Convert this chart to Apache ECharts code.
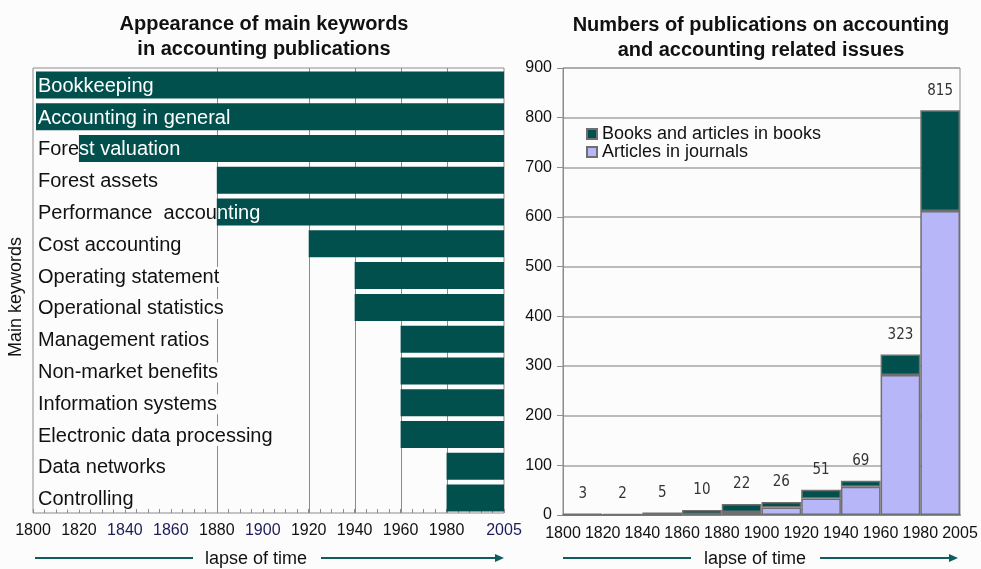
<!DOCTYPE html>
<html>
<head>
<meta charset="utf-8">
<title>Accounting keywords and publications</title>
<script src="https://cdn.jsdelivr.net/npm/echarts@6/dist/echarts.min.js"></script>
<style>
  html, body { margin: 0; padding: 0; background: #fcfcfc; }
  #chart { width: 981px; height: 569px; }
</style>
</head>
<body>
<div id="chart"></div>
<script>
// Keywords and the year each first appears (bars run to the last year)
const keywords = [
  'Bookkeeping', 'Accounting in general', 'Forest valuation', 'Forest assets',
  'Performance  accounting', 'Cost accounting', 'Operating statement',
  'Operational statistics', 'Management ratios', 'Non-market benefits',
  'Information systems', 'Electronic data processing', 'Data networks', 'Controlling'
];
const firstYears = [1800, 1800, 1820, 1880, 1880, 1920, 1940, 1940, 1960, 1960, 1960, 1960, 1980, 1980];
const lastYear = 2005;
const gridYears = [1880, 1920, 1940, 1960, 1980];
const navyYearLabels = [1840, 1860, 1900, 2005];

// Publication counts per period
const periods = ['1800-1820', '1820-1840', '1840-1860', '1860-1880', '1880-1900',
  '1900-1920', '1920-1940', '1940-1960', '1960-1980', '1980-2005'];
const periodEdges = ['1800', '1820', '1840', '1860', '1880', '1900', '1920', '1940', '1960', '1980', '2005'];
const journals = [0, 0, 0, 2, 6, 15, 33, 57, 282, 612];
const books = [3, 2, 5, 8, 16, 11, 18, 12, 41, 203];

const FONT = '"Liberation Sans", Arial, Helvetica, sans-serif';
const NARROW = '"Liberation Sans Narrow", "DejaVu Sans Condensed", "Liberation Sans", sans-serif';
const TEAL = '#02504e';
const LAVENDER = '#b6b6f8';
const FRAME = '#8c8c8c';
const ARROW = '#0f5d5c';
const BG = '#fcfcfc';

const chart = echarts.init(document.getElementById('chart'), null, { renderer: 'canvas' });

function arrow(x1, x2, y) {
  return [
    { type: 'line', shape: { x1: x1, y1: y, x2: x2 - 7, y2: y }, style: { stroke: ARROW, lineWidth: 2 } },
    { type: 'polygon', shape: { points: [[x2 - 9, y - 4], [x2, y], [x2 - 9, y + 4]] }, style: { fill: ARROW } }
  ];
}
function plainLine(x1, x2, y) {
  return { type: 'line', shape: { x1: x1, y1: y, x2: x2, y2: y }, style: { stroke: ARROW, lineWidth: 2 } };
}

const option = {
  backgroundColor: BG,
  animation: false,
  title: [
    {
      text: 'Appearance of main keywords\nin accounting publications',
      left: 259, top: 7, textAlign: 'center',
      textStyle: { fontFamily: FONT, fontSize: 20, fontWeight: 'bold', color: '#111', lineHeight: 25 }
    },
    {
      text: 'Numbers of publications on accounting\nand accounting related issues',
      left: 756, top: 8, textAlign: 'center',
      textStyle: { fontFamily: FONT, fontSize: 20, fontWeight: 'bold', color: '#111', lineHeight: 25 }
    }
  ],
  legend: {
    orient: 'vertical', left: 581, top: 120,
    itemWidth: 10, itemHeight: 10, itemGap: 0, icon: 'rect',
    data: ['Books and articles in books', 'Articles in journals'],
    textStyle: { fontFamily: FONT, fontSize: 18, color: '#111' }
  },
  grid: [
    { left: 33, top: 68, width: 471, height: 445, show: true, borderColor: FRAME, borderWidth: 1, backgroundColor: 'transparent' },
    { left: 563, top: 68, width: 397, height: 447, show: true, borderColor: FRAME, borderWidth: 1, backgroundColor: 'transparent' }
  ],
  xAxis: [
    {
      gridIndex: 0, type: 'value', min: 1800, max: lastYear, interval: 20, position: 'bottom',
      axisLine: { lineStyle: { color: FRAME } },
      axisTick: { show: false },
      splitLine: { show: false },
      axisLabel: {
        fontFamily: FONT, fontSize: 16, margin: 10,
        formatter: function (v) { return v === 2000 ? '' : String(v); },
        color: function (v) { return navyYearLabels.indexOf(Number(v)) >= 0 ? '#1c1c5a' : '#111'; }
      }
    },
    {
      gridIndex: 0, type: 'value', min: 1800, max: lastYear, interval: 5, position: 'bottom',
      axisLine: { show: false },
      axisTick: { show: true, inside: true, length: 4, lineStyle: { color: FRAME } },
      axisLabel: { show: false },
      splitLine: { show: false }
    },
    {
      gridIndex: 1, type: 'category', data: periods, show: false, position: 'bottom'
    },
    {
      gridIndex: 1, type: 'value', min: 0, max: periods.length, interval: 1, position: 'bottom',
      axisLine: { lineStyle: { color: FRAME, width: 2 } },
      axisTick: { show: false },
      splitLine: { show: false },
      axisLabel: {
        fontFamily: FONT, fontSize: 16, color: '#111', margin: 11,
        formatter: function (v) { return periodEdges[v]; }
      }
    }
  ],
  yAxis: [
    {
      gridIndex: 0, type: 'category', data: keywords, inverse: true,
      axisLine: { show: false }, axisTick: { show: false }, axisLabel: { show: false },
      splitLine: { show: false }
    },
    {
      gridIndex: 1, type: 'value', min: 0, max: 900, interval: 100,
      axisLine: { show: true, lineStyle: { color: FRAME } },
      axisTick: { show: true, length: 6, lineStyle: { color: FRAME } },
      splitLine: { lineStyle: { color: '#a6a6a6', width: 1.5 } },
      axisLabel: { fontFamily: FONT, fontSize: 16, color: '#111', margin: 11 }
    }
  ],
  series: [
    {
      // vertical period lines behind the keyword bars
      type: 'custom', name: 'periods', xAxisIndex: 0, yAxisIndex: 0, z: 1, silent: true,
      data: gridYears.map(function (y) { return [y]; }),
      renderItem: function (params, api) {
        const cs = params.coordSys;
        const x = Math.round(api.coord([api.value(0), 0])[0]) + 0.5;
        return {
          type: 'line',
          shape: { x1: x, y1: cs.y, x2: x, y2: cs.y + cs.height },
          style: { stroke: '#8a8a8a', lineWidth: 1 }
        };
      }
    },
    {
      type: 'custom', name: 'keywords', xAxisIndex: 0, yAxisIndex: 0, z: 2, silent: true,
      encode: { x: [0, 1], y: 2 },
      data: keywords.map(function (k, i) { return [firstYears[i], lastYear, k]; }),
      renderItem: function (params, api) {
        const cs = params.coordSys;
        const idx = api.value(2);
        const p0 = api.coord([api.value(0), idx]);
        const p1 = api.coord([api.value(1), idx]);
        const band = api.size([0, 1])[1];
        const h = band * 0.85;
        // bars that start at the left edge keep a small inset from the frame
        const x0 = Math.max(p0[0], cs.x + 3);
        const rect = { x: x0, y: p0[1] - h / 2 + 1, width: p1[0] - x0, height: h };
        const name = keywords[params.dataIndex];
        const tx = cs.x + 4;
        const ty = p0[1] + 2.5;
        const font = '20px ' + FONT;
        return {
          type: 'group',
          children: [
            {
              type: 'text',
              style: {
                text: name, x: tx, y: ty, font: font, fill: '#111',
                align: 'left', verticalAlign: 'middle',
                textAlign: 'left', textVerticalAlign: 'middle',
                backgroundColor: BG, padding: [0, 1, 0, 1]
              }
            },
            { type: 'rect', shape: rect, style: { fill: TEAL } },
            {
              type: 'text',
              style: {
                text: name, x: tx, y: ty, font: font, fill: '#ffffff',
                align: 'left', verticalAlign: 'middle',
                textAlign: 'left', textVerticalAlign: 'middle',
                padding: [0, 1, 0, 1]
              },
              clipPath: { type: 'rect', shape: rect }
            }
          ]
        };
      }
    },
    {
      type: 'bar', name: 'Articles in journals', xAxisIndex: 2, yAxisIndex: 1,
      stack: 'publications', barCategoryGap: 0, data: journals,
      itemStyle: { color: LAVENDER, borderColor: '#6f6f6f', borderWidth: 1.5 }
    },
    {
      type: 'bar', name: 'Books and articles in books', xAxisIndex: 2, yAxisIndex: 1,
      stack: 'publications', barCategoryGap: 0, data: books,
      itemStyle: { color: TEAL, borderColor: '#6f6f6f', borderWidth: 1.5 },
      label: {
        show: true, position: 'top', distance: 12,
        fontFamily: NARROW, fontSize: 15, color: '#333',
        formatter: function (p) { return String(journals[p.dataIndex] + books[p.dataIndex]); }
      }
    }
  ],
  graphic: [
    {
      type: 'text', x: 16, y: 297, rotation: Math.PI / 2,
      style: { text: 'Main keywords', font: '18px ' + FONT, fill: '#111', align: 'center', verticalAlign: 'middle', textAlign: 'center', textVerticalAlign: 'middle' }
    },
    {
      type: 'text', x: 256, y: 559,
      style: { text: 'lapse of time', font: '18px ' + FONT, fill: '#111', align: 'center', verticalAlign: 'middle', textAlign: 'center', textVerticalAlign: 'middle' }
    },
    {
      type: 'text', x: 755, y: 559,
      style: { text: 'lapse of time', font: '18px ' + FONT, fill: '#111', align: 'center', verticalAlign: 'middle', textAlign: 'center', textVerticalAlign: 'middle' }
    },
    plainLine(35, 193, 558),
    ...arrow(321, 504, 558),
    plainLine(563, 691, 558),
    ...arrow(820, 958, 558)
  ]
};

chart.setOption(option);
</script>
</body>
</html>
